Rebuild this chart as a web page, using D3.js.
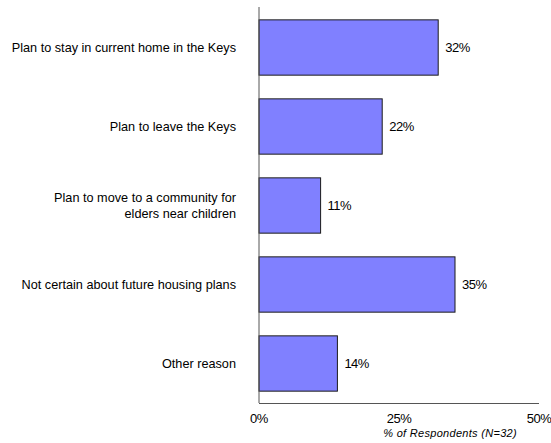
<!DOCTYPE html>
<html>
<head>
<meta charset="utf-8">
<script src="https://cdn.jsdelivr.net/npm/d3@7"></script>
<style>
  body { margin: 0; background: #fff; }
  svg text { font-family: "Liberation Sans", Arial, sans-serif; fill: #000; }
</style>
</head>
<body>
<svg id="chart" width="551" height="443"></svg>
<script>
// Housing plans of respondents
const categories = [
  ["Plan to stay in current home in the Keys"],
  ["Plan to leave the Keys"],
  ["Plan to move to a community for", "elders near children"],
  ["Not certain about future housing plans"],
  ["Other reason"]
];
const values = [32, 22, 11, 35, 14];
const tickValues = [0, 25, 50];
const axisTitle = "% of Respondents (N=32)";

const svg = d3.select("#chart");

const x = d3.scaleLinear().domain([0, 50]).range([259, 539]);
const y = d3.scaleBand()
  .domain(d3.range(values.length))
  .range([8, 403])
  .paddingInner(0.3)
  .paddingOuter(0.15);

// bars
svg.append("g").selectAll("rect")
  .data(values)
  .join("rect")
  .attr("x", x(0))
  .attr("y", (d, i) => y(i))
  .attr("width", d => x(d) - x(0))
  .attr("height", y.bandwidth())
  .attr("fill", "#8080ff")
  .attr("stroke", "#1a1a1a")
  .attr("stroke-width", 1);

// value labels
svg.append("g").selectAll("text")
  .data(values)
  .join("text")
  .attr("x", d => x(d) + 7)
  .attr("y", (d, i) => y(i) + y.bandwidth() / 2)
  .attr("dy", "0.35em")
  .attr("font-size", 13)
  .attr("letter-spacing", -0.5)
  .text(d => d + "%");

// category labels
const catG = svg.append("g");
categories.forEach((lines, i) => {
  const cy = y(i) + y.bandwidth() / 2;
  const lh = 16;
  const t = catG.append("text")
    .attr("text-anchor", "end")
    .attr("font-size", 12.7);
  lines.forEach((ln, j) => {
    t.append("tspan")
      .attr("x", 236)
      .attr("y", cy + (j - (lines.length - 1) / 2) * lh)
      .attr("dy", "0.35em")
      .text(ln);
  });
});

// axis lines
svg.append("line")
  .attr("x1", x(0)).attr("x2", x(0))
  .attr("y1", 7).attr("y2", 403)
  .attr("stroke", "#555").attr("stroke-width", 1);
svg.append("line")
  .attr("x1", x(0)).attr("x2", x(50))
  .attr("y1", 403.5).attr("y2", 403.5)
  .attr("stroke", "#555").attr("stroke-width", 1);

// x tick labels
svg.append("g").selectAll("text")
  .data(tickValues)
  .join("text")
  .attr("x", d => x(d))
  .attr("y", 418)
  .attr("dy", "0.35em")
  .attr("text-anchor", "middle")
  .attr("font-size", 13)
  .attr("letter-spacing", -0.5)
  .text(d => d + "%");

// axis title
svg.append("text")
  .attr("x", 517)
  .attr("y", 433)
  .attr("dy", "0.35em")
  .attr("text-anchor", "end")
  .attr("font-size", 11)
  .attr("font-style", "italic")
  .attr("letter-spacing", 0.3)
  .text(axisTitle);
</script>
</body>
</html>
